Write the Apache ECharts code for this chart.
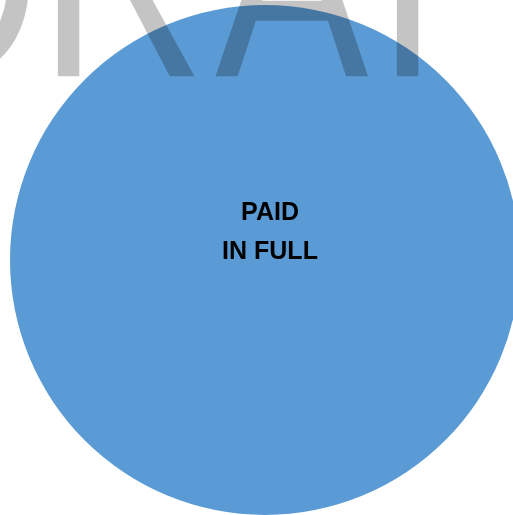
<!DOCTYPE html>
<html>
<head>
<meta charset="utf-8">
<script src="https://cdn.jsdelivr.net/npm/echarts@6/dist/echarts.min.js"></script>
<style>
  html, body { margin: 0; padding: 0; background: #fff; }
  #chart { width: 513px; height: 515px; }
</style>
</head>
<body>
<div id="chart"></div>
<script>
// one slice only -- the whole pie is "paid in full"
const categories = ['PAID\nIN FULL'];
const values = [1];
const watermark = ['D', 'R', 'A', 'F', 'T'];

// x of each watermark letter (Calibri spacing is looser than Liberation)
const markX = [-126, 39, 215, 378, 518];

const chart = echarts.init(document.getElementById('chart'), null, { renderer: 'canvas' });

chart.setOption({
  animation: false,
  color: ['#5B9BD5'],
  series: [{
    type: 'pie',
    center: [265, 260],
    radius: 255,
    startAngle: 90,
    silent: true,
    label: {
      show: true,
      position: 'center',
      color: '#000',
      fontFamily: '"Liberation Sans", Arial, sans-serif',
      fontWeight: 'bold',
      fontSize: 25,
      lineHeight: 39,
      offset: [5, -27]
    },
    labelLine: { show: false },
    itemStyle: { borderWidth: 0 },
    emphasis: { disabled: true },
    data: categories.map((name, i) => ({ name: name, value: values[i] }))
  }],
  // watermark: baseline sits at y=77, letters stretched a bit to look like Calibri
  graphic: watermark.map((ch, i) => ({
    type: 'text',
    z: 100,
    silent: true,
    x: markX[i],
    y: 77,
    scaleY: 1.2,
    style: {
      text: ch,
      x: 0,
      y: -64,
      verticalAlign: 'middle',
      font: '230px "Liberation Sans", Arial, sans-serif',
      fill: 'rgba(0,0,0,0.23)'
    }
  }))
});
</script>
</body>
</html>
